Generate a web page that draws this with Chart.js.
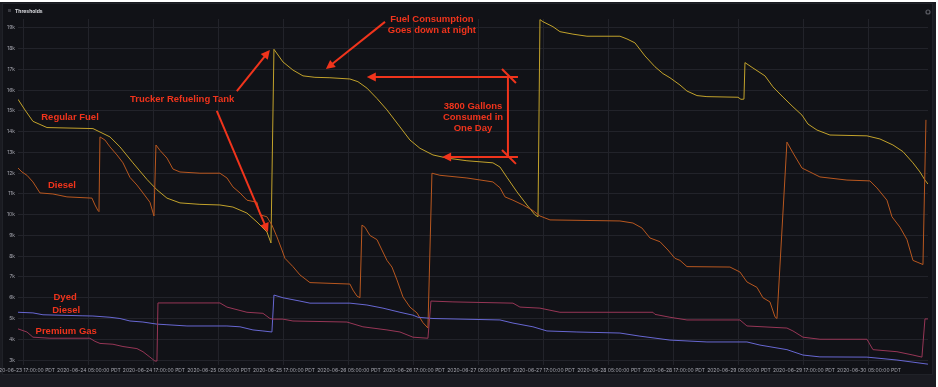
<!DOCTYPE html>
<html><head><meta charset="utf-8">
<script src="https://cdn.jsdelivr.net/npm/chart.js@4/dist/chart.umd.min.js"></script>
<style>html,body{margin:0;padding:0;background:#fff;overflow:hidden}#wrap{position:absolute;left:0;top:0;width:938px;height:387px}</style>
</head><body><div id="wrap"><canvas id="c" width="938" height="387"></canvas></div>
<script>
// x values: hours since 2020-06-23 17:00:00 PDT ; y values: thousands of gallons
const tickHours = [0,12,24,36,48,60,72,84,96,108,120,132,144,156];
const tickLabels = ["2020-06-23 17:00:00 PDT","2020-06-24 05:00:00 PDT","2020-06-24 17:00:00 PDT","2020-06-25 05:00:00 PDT","2020-06-25 17:00:00 PDT","2020-06-26 05:00:00 PDT","2020-06-26 17:00:00 PDT","2020-06-27 05:00:00 PDT","2020-06-27 17:00:00 PDT","2020-06-28 05:00:00 PDT","2020-06-28 17:00:00 PDT","2020-06-29 05:00:00 PDT","2020-06-29 17:00:00 PDT","2020-06-30 05:00:00 PDT"];
const yTicks = [3,4,5,6,7,8,9,10,11,12,13,14,15,16,17,18,19];

const regularT = [-1.1,0.18,1.66,4.25,12.74,15.88,17.72,20.12,22.71,24.55,26.4,28.8,32.49,36.18,38.58,41.17,43.02,44.86,45.6,46.15,47.82,49.66,51.51,53.72,56.49,60.18,61.66,63.32,65.17,67.02,69.42,71.26,73.11,75.51,78.09,81.78,86.58,87.88,89.17,91.02,92.86,94.34,94.9,95.26,95.82,97.66,98.95,101.35,103.94,110.03,111.32,112.8,114.65,116.49,117.97,119.26,121.11,122.4,124.25,126.09,131.82,132.37,132.92,133.11,134.58,136.8,138.28,140.12,141.97,143.63,144.74,146.4,148.8,155.63,158.03,160.43,162.28,164.12,165.42,166.34,166.89];
const regularV = [15.56,15.05,14.5,14.2,14.15,13.75,13.27,12.5,11.7,11.2,10.8,10.57,10.5,10.47,10.37,10.08,9.65,9.17,8.64,17.97,17.36,16.97,16.69,16.62,16.6,16.54,16.41,16.1,15.6,15.05,14.23,13.6,13.2,12.88,12.73,12.6,12.5,12.3,11.8,11.1,10.47,10.0,9.9,19.4,19.3,19.06,18.82,18.7,18.6,18.6,18.47,18.28,17.65,17.13,16.8,16.6,16.25,15.96,15.74,15.69,15.66,15.56,15.57,17.33,17.07,16.69,16.16,15.67,15.2,14.8,14.37,14.08,13.84,13.8,13.65,13.36,13.04,12.5,12.06,11.67,11.48];

const dieselT = [-1.1,-0.37,0.55,1.66,2.95,5.35,7.94,12.55,13.11,13.66,13.85,14.03,14.95,15.88,17.17,18.28,19.57,20.86,21.97,23.26,24.0,24.37,25.11,26.4,27.51,28.8,32.49,36.18,37.48,38.58,39.88,41.17,43.02,43.57,44.86,45.78,46.71,47.63,48.18,49.66,50.95,52.8,60.18,60.74,61.48,62.03,62.4,62.95,63.88,65.17,66.09,67.02,67.94,68.86,69.97,71.26,72.55,73.66,74.58,75.32,76.8,81.78,86.58,87.88,88.8,90.28,92.12,93.97,95.26,97.11,110.03,112.43,114.09,115.57,117.42,118.89,120.18,121.11,122.4,130.34,132.18,133.48,135.32,136.43,137.72,138.65,139.02,140.86,141.97,143.63,145.11,146.95,151.94,156.18,157.48,159.32,160.25,161.72,163.02,164.12,165.05,165.97,166.52];
const dieselV = [12.25,12.06,11.9,11.58,11.05,11.0,10.86,10.8,10.47,10.2,10.15,13.75,13.6,13.27,12.88,12.5,11.8,11.43,11.05,10.6,9.94,13.36,13.1,12.73,12.2,12.06,12.0,12.0,11.77,11.34,11.05,10.7,10.6,10.0,9.9,9.5,8.93,8.3,7.9,7.5,7.1,6.73,6.66,6.37,6.08,6.0,9.5,9.4,9.0,8.8,8.3,7.8,7.48,6.86,6.04,5.55,5.27,4.8,4.54,12.0,11.9,11.77,11.58,11.3,10.86,10.7,10.47,10.2,9.94,9.75,9.7,9.6,9.36,8.88,8.7,8.3,7.9,7.8,7.5,7.48,7.24,6.76,6.5,6.0,5.8,5.08,5.0,13.5,12.98,12.25,12.06,11.82,11.67,11.63,11.29,10.7,9.9,9.4,8.8,7.8,7.7,7.6,14.57];

const dyedT = [-1.1,1.66,3.51,10.89,12.74,15.88,17.72,19.57,21.97,24.55,26.4,30.09,37.48,39.88,42.28,44.12,45.78,46.15,47.82,50.95,52.8,60.18,63.32,66.28,69.42,71.82,72.74,75.51,87.88,90.28,93.97,96.55,102.09,110.03,113.72,119.26,126.09,133.48,135.88,140.86,143.82,146.95,155.63,161.17,166.89];
const dyedV = [5.3,5.27,5.18,5.13,5.12,5.06,5.0,4.88,4.83,4.73,4.7,4.64,4.64,4.6,4.45,4.4,4.35,6.13,6.0,5.84,5.74,5.74,5.65,5.5,5.3,5.16,5.06,5.0,4.93,4.78,4.6,4.4,4.35,4.3,4.15,3.96,3.87,3.87,3.72,3.5,3.24,3.15,3.14,3.0,2.8];

const premiumT = [-1.1,0.55,1.66,4.8,12.18,13.11,14.03,16.43,18.28,20.86,21.97,23.26,24.18,24.55,24.74,36.18,37.48,41.17,44.12,45.42,45.97,47.82,49.66,59.63,62.58,67.02,69.42,71.82,74.58,75.14,79.2,90.28,91.57,95.26,97.11,98.95,116.12,116.49,119.26,122.4,132.18,133.48,140.86,141.97,143.82,146.95,155.63,156.74,161.17,164.12,165.78,166.34,166.89];
const premiumV = [4.5,4.35,4.1,4.05,4.05,3.9,3.8,3.76,3.65,3.55,3.4,3.14,2.95,2.95,5.75,5.75,5.55,5.3,5.25,5.0,4.97,4.97,4.88,4.83,4.6,4.45,4.35,4.1,4.05,5.84,5.8,5.74,5.55,5.5,5.4,5.3,5.3,5.2,5.06,4.93,4.93,4.64,4.54,4.4,4.1,4.0,4.0,3.5,3.4,3.24,3.14,4.98,4.98];

// annotation texts, anchored in data space [hours, k gallons]
const noteTexts = [
  {t:"Regular Fuel", at:[8.5,14.71]},
  {t:"Diesel", at:[7.0,11.43]},
  {t:"Trucker Refueling Tank", at:[29.2,15.58]},
  {t:"Dyed", at:[7.6,6.04]},
  {t:"Diesel", at:[7.8,5.41]},
  {t:"Premium Gas", at:[7.8,4.40]},
  {t:"Fuel Consumption", at:[75.3,19.43]},
  {t:"Goes down at night", at:[75.3,18.86]},
  {t:"3800 Gallons", at:[82.9,15.24]},
  {t:"Consumed in", at:[82.9,14.71]},
  {t:"One Day", at:[82.9,14.18]}
];
const noteArrows = [
  {from:[39.3,15.96], to:[45.4,17.94], head:true},
  {from:[35.6,15.0], to:[45.05,9.17], head:true},
  {from:[66.65,19.29], to:[55.75,17.02], head:true},
  {from:[91.2,16.64], to:[63.3,16.64], head:true},
  {from:[88.25,17.02], to:[90.83,16.35], head:false},
  {from:[89.35,16.64], to:[89.35,12.78], head:false},
  {from:[91.2,12.78], to:[77.2,12.78], head:true},
  {from:[88.25,13.12], to:[90.83,12.45], head:false}
];

const pts = (T,V) => T.map((t,i)=>({x:t,y:V[i]}));

const panelPlugin = {
  id:'panel',
  beforeDraw(chart){
    const c = chart.ctx;
    c.save();
    c.fillStyle='#ffffff'; c.fillRect(0,0,938,387);
    c.fillStyle='#1a1b21'; c.fillRect(0,2,936,385);
    c.fillStyle='#111217'; c.fillRect(2,3,931,372);
    c.strokeStyle='#202228'; c.lineWidth=1; c.strokeRect(2.5,3.5,930,371);
    c.fillStyle='#3a3b42'; c.fillRect(8,9,3,3);
    c.fillStyle='#d8d9de'; c.font='bold 5px Inter, sans-serif'; c.textBaseline='middle'; c.textAlign='left';
    c.fillText('Thresholds',15,11);
    c.strokeStyle='#5a5b63'; c.lineWidth=1.2; c.beginPath(); c.arc(928,12,2,0,Math.PI*2); c.stroke();
    c.restore();
  },
  beforeEvent(){},
};

const notesPlugin = {
  id:'notes',
  afterDatasetsDraw(chart){
    const c = chart.ctx, xs = chart.scales.x, ys = chart.scales.y;
    const P = a => [xs.getPixelForValue(a[0]), ys.getPixelForValue(a[1])];
    c.save();
    c.fillStyle='#f0341c'; c.strokeStyle='#f0341c';
    c.font='bold 9.5px "Liberation Sans", Arial, sans-serif';
    c.textAlign='center'; c.textBaseline='middle';
    noteTexts.forEach(n=>{const p=P(n.at); c.fillText(n.t,p[0],p[1]);});
    c.lineWidth=2; c.lineCap='butt';
    noteArrows.forEach(a=>{
      const f=P(a.from), t=P(a.to);
      const ang=Math.atan2(t[1]-f[1],t[0]-f[0]);
      const L=a.head?9:0;
      c.beginPath(); c.moveTo(f[0],f[1]);
      c.lineTo(t[0]-Math.cos(ang)*L*0.8,t[1]-Math.sin(ang)*L*0.8); c.stroke();
      if(a.head){
        c.beginPath(); c.moveTo(t[0],t[1]);
        c.lineTo(t[0]-Math.cos(ang)*L+Math.sin(ang)*4.5, t[1]-Math.sin(ang)*L-Math.cos(ang)*4.5);
        c.lineTo(t[0]-Math.cos(ang)*L-Math.sin(ang)*4.5, t[1]-Math.sin(ang)*L+Math.cos(ang)*4.5);
        c.closePath(); c.fill();
      }
    });
    c.restore();
  }
};

const ds = (label,T,V,color)=>({label,data:pts(T,V),borderColor:color,backgroundColor:color,borderWidth:1,pointRadius:0,tension:0,fill:false});

new Chart(document.getElementById('c'),{
  type:'line',
  data:{datasets:[
    ds('Premium Gas',premiumT,premiumV,'#973656'),
    ds('Dyed Diesel',dyedT,dyedV,'#6767d2'),
    ds('Diesel',dieselT,dieselV,'#b8571f'),
    ds('Regular Fuel',regularT,regularV,'#c2a22b')
  ]},
  options:{
    responsive:false, animation:false, devicePixelRatio:1,
    layout:{padding:{left:3,top:19,right:10,bottom:10}},
    plugins:{legend:{display:false},tooltip:{enabled:false}},
    scales:{
      x:{type:'linear',min:-1.1,max:166.9,
        afterBuildTicks:s=>{s.ticks=tickHours.map(v=>({value:v}));},
        afterFit:s=>{s.height=12;s.paddingLeft=0;s.paddingRight=0;},
        ticks:{autoSkip:false,maxRotation:0,padding:2,color:'#a3a4ad',font:{size:5,family:'Inter, sans-serif'},
          callback:v=>tickLabels[tickHours.indexOf(v)]},
        grid:{color:'#22232a',drawTicks:false},border:{display:false}},
      y:{type:'linear',min:2.76,max:19.43,
        afterBuildTicks:s=>{s.ticks=yTicks.map(v=>({value:v}));},
        afterFit:s=>{s.width=15;},
        ticks:{padding:3,color:'#a3a4ad',font:{size:5,family:'Inter, sans-serif'},callback:v=>v+'k'},
        grid:{color:'#22232a',drawTicks:false},border:{display:false}}
    }
  },
  plugins:[panelPlugin,notesPlugin]
});
</script></body></html>
